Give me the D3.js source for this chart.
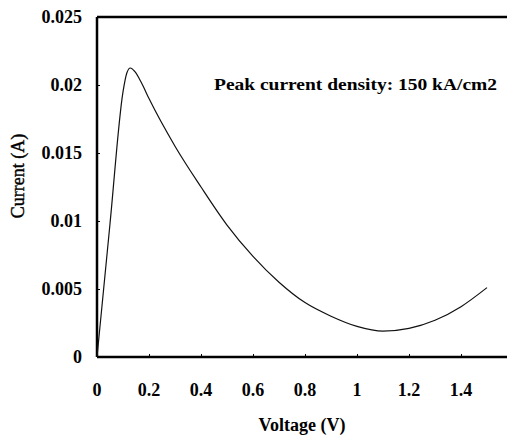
<!DOCTYPE html>
<html>
<head>
<meta charset="utf-8">
<script src="https://cdn.jsdelivr.net/npm/d3@7"></script>
<style>
  body { margin: 0; background: #fff; }
  svg { display: block; font-family: "Liberation Serif", "Times New Roman", serif; }
</style>
</head>
<body>
<svg></svg>
<script>
// values
let voltage = [0, 0.05, 0.1, 0.115, 0.128, 0.145, 0.17, 0.2, 0.3, 0.4, 0.5, 0.6, 0.7, 0.8, 0.9, 1.0, 1.1, 1.2, 1.3, 1.4, 1.5];
let current = [0, 0.0098, 0.0195, 0.0209, 0.02125, 0.0210, 0.0202, 0.0190, 0.0155, 0.0125, 0.0097, 0.0074, 0.0055, 0.0040, 0.0030, 0.00225, 0.0019, 0.0021, 0.0027, 0.0037, 0.0051];
let xTicks = [0, 0.2, 0.4, 0.6, 0.8, 1, 1.2, 1.4];
let xTickLabels = ["0", "0.2", "0.4", "0.6", "0.8", "1", "1.2", "1.4"];
let yTicks = [0, 0.005, 0.01, 0.015, 0.02, 0.025];
let yTickLabels = ["0", "0.005", "0.01", "0.015", "0.02", "0.025"];

let svg = d3.select("svg").attr("width", 507).attr("height", 440);

let x = d3.scaleLinear().domain([0, 1.6]).range([97, 513]);
let y = d3.scaleLinear().domain([0, 0.025]).range([357, 17]);

// frame (right side runs off the page)
let frame = svg.append("g").style("stroke", "#000").style("stroke-width", 2.5).style("fill", "none");
frame.append("line").attr("x1", x(0)).attr("y1", y(0)).attr("x2", 507).attr("y2", y(0));
frame.append("line").attr("x1", x(0)).attr("y1", y(0)).attr("x2", x(0)).attr("y2", y(0.025));
frame.append("line").attr("x1", x(0)).attr("y1", y(0.025)).attr("x2", 507).attr("y2", y(0.025));

// small inward ticks
let yAxis = d3.axisLeft(y).tickValues(yTicks).tickSize(-3).tickFormat("");
svg.append("g").attr("transform", `translate(${x(0)},0)`).call(yAxis)
    .call(g => g.select(".domain").remove());
let xAxis = d3.axisBottom(x).tickValues(xTicks).tickSize(-3).tickFormat("");
svg.append("g").attr("transform", `translate(0,${y(0)})`).call(xAxis)
    .call(g => g.select(".domain").remove());

// tick labels
svg.append("g").selectAll("text").data(yTicks).join("text")
    .attr("x", 82).attr("y", d => y(d)).attr("dy", "0.35em")
    .attr("text-anchor", "end").style("font-size", "18px").style("font-weight", "bold")
    .text((d, i) => yTickLabels[i]);
svg.append("g").selectAll("text").data(xTicks).join("text")
    .attr("x", d => x(d)).attr("y", 396)
    .attr("text-anchor", "middle").style("font-size", "18px").style("font-weight", "bold")
    .text((d, i) => xTickLabels[i]);

// axis titles
svg.append("text").attr("x", 302).attr("y", 431).attr("text-anchor", "middle")
    .style("font-size", "18px").style("font-weight", "bold").text("Voltage (V)");
svg.append("text").attr("transform", "translate(24,176) rotate(-90)").attr("text-anchor", "middle")
    .style("font-size", "18px").style("stroke", "#000").style("stroke-width", 0.4).text("Current (A)");

// annotation
svg.append("text").attr("x", 214).attr("y", 90)
    .attr("textLength", 283).attr("lengthAdjust", "spacingAndGlyphs")
    .style("font-size", "17px").style("font-weight", "bold").text("Peak current density: 150 kA/cm2");

// I-V curve
let line = d3.line().x((d, i) => x(voltage[i])).y(d => y(d)).curve(d3.curveMonotoneX);
svg.append("path").attr("d", line(current))
    .attr("fill", "none").attr("stroke", "#111").attr("stroke-width", 1.2);
</script>
</body>
</html>
